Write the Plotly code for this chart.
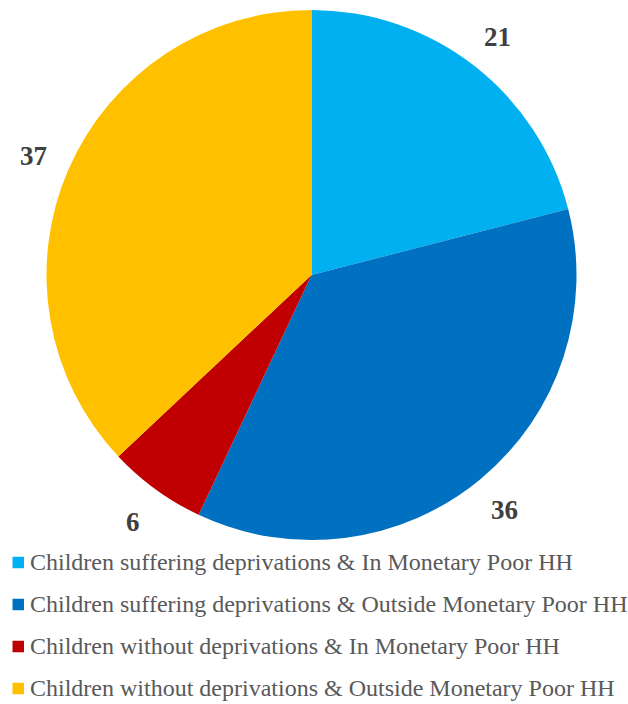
import math
import plotly.graph_objects as go

# Share of children by deprivation / monetary-poverty status (%)
categories = [
    "Children suffering deprivations & In Monetary Poor HH",
    "Children suffering deprivations & Outside Monetary Poor HH",
    "Children without deprivations & In Monetary Poor HH",
    "Children without deprivations & Outside Monetary Poor HH",
]
values = [21, 36, 6, 37]
colors = ["#00B0F0", "#0070C0", "#C00000", "#FFC000"]

W, H = 628, 704
cx, cy, r = 311.5, 275.0, 265.0  # pie centre and radius in pixels
label_r = 1.143 * r
serif = "Liberation Serif"

fig = go.Figure(
    go.Pie(
        labels=categories,
        values=values,
        marker=dict(colors=colors, line=dict(width=0)),
        sort=False,
        direction="clockwise",
        rotation=0,
        textinfo="none",
        hoverinfo="label+value",
        showlegend=False,
        domain=dict(x=[(cx - r) / W, (cx + r) / W], y=[1 - (cy + r) / H, 1 - (cy - r) / H]),
    )
)

annotations = []
shapes = []

# value labels placed outside each slice at its mid-angle
total = sum(values)
cum = 0
for v in values:
    mid = (cum + v / 2) / total * 2 * math.pi
    cum += v
    px = cx + label_r * math.sin(mid)
    py = cy - label_r * math.cos(mid)
    annotations.append(
        dict(
            x=px / W, y=1 - (py + 1.5) / H, xref="paper", yref="paper",
            text="<b>%d</b>" % v, showarrow=False, xanchor="center", yanchor="middle",
            font=dict(family=serif, size=27, color="#404040"),
        )
    )

# legend drawn as colour squares with text beside them
row0, row_gap = 562.5, 42.0
sq = 11.5
for i, (cat, col) in enumerate(zip(categories, colors)):
    yc = row0 + i * row_gap
    shapes.append(
        dict(
            type="rect", xref="paper", yref="paper",
            x0=12.5 / W, x1=(12.5 + sq) / W,
            y0=1 - (yc + sq / 2) / H, y1=1 - (yc - sq / 2) / H,
            fillcolor=col, line=dict(width=0),
        )
    )
    annotations.append(
        dict(
            x=28 / W, y=1 - (yc - 1) / H, xref="paper", yref="paper",
            text=cat, showarrow=False, xanchor="left", yanchor="middle",
            font=dict(family=serif, size=24, color="#595959"),
        )
    )

fig.update_layout(
    width=W, height=H,
    margin=dict(l=0, r=0, t=0, b=0),
    paper_bgcolor="white",
    plot_bgcolor="white",
    font=dict(family=serif),
    annotations=annotations,
    shapes=shapes,
)

fig.write_html("out.html")
